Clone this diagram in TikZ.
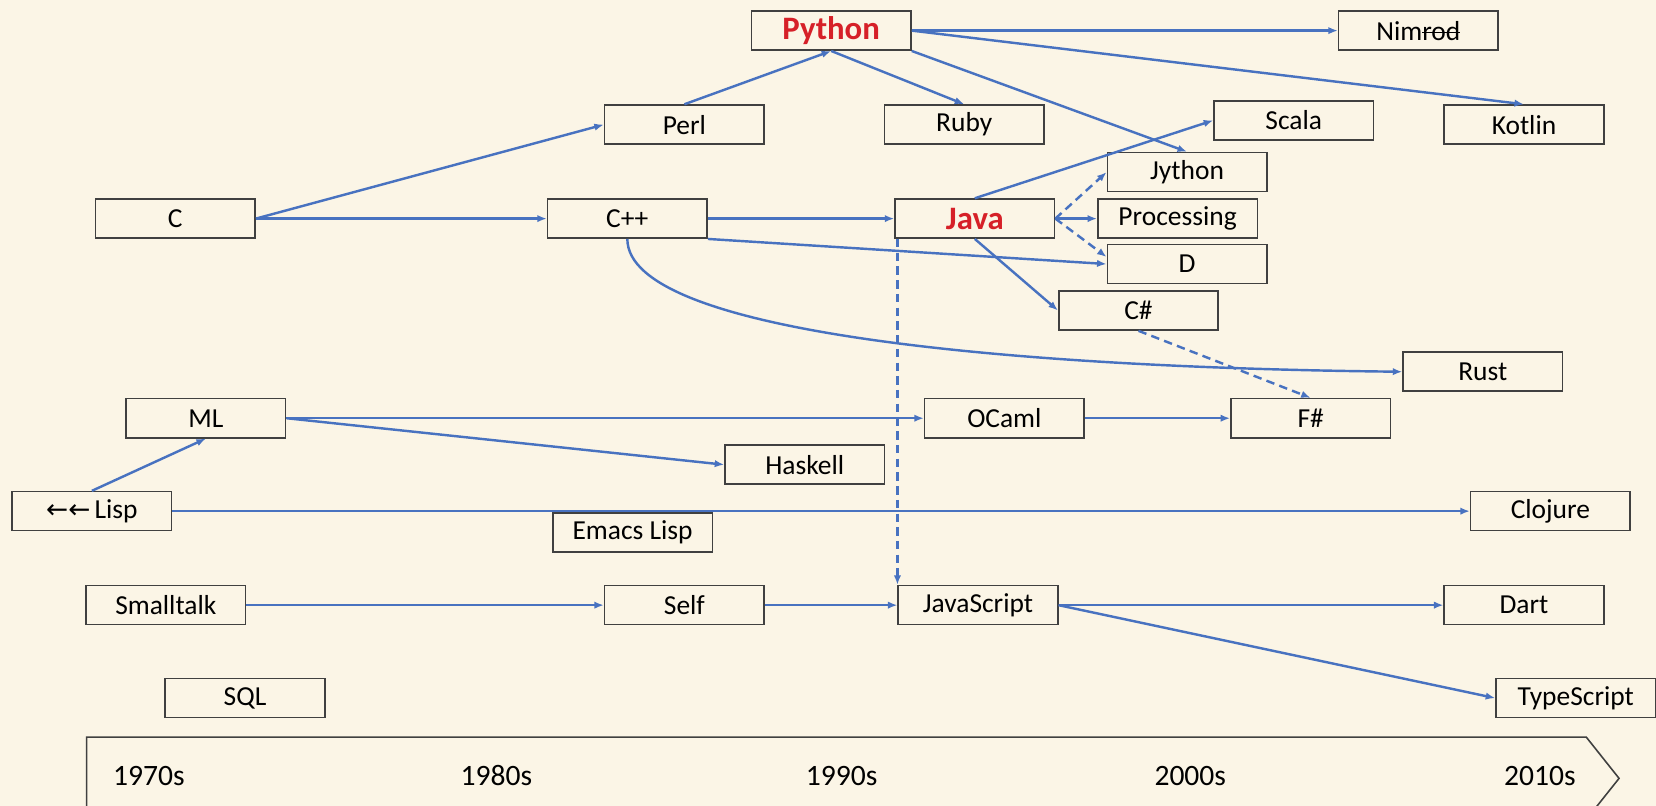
\documentclass[tikz,border=0pt]{standalone}
\usepackage{fontspec}
\setmainfont{Carlito}
\newfontfamily\arrowfont{DejaVu Sans}
\newcommand\mystrike[1]{\setbox0\hbox{#1}\rlap{\rule[0.26em]{\wd0}{0.6pt}}\box0}
\usetikzlibrary{arrows.meta}
\definecolor{bgc}{RGB}{251,245,230}
\definecolor{lnc}{RGB}{72,114,192}
\definecolor{boxc}{RGB}{64,64,64}
\definecolor{redc}{RGB}{214,32,40}
\tikzset{
  x=0.5pt, y=-0.5pt,
  lang/.style={draw=boxc, line width=0.75pt, fill=bgc, minimum width=75.5pt, minimum height=18.5pt, inner sep=0pt, font=\fontsize{13}{15}\selectfont},
  hot/.style={lang, text=redc, font=\fontsize{15.5}{17}\selectfont\bfseries},
  yr/.style={font=\fontsize{14}{16}\selectfont, inner sep=0pt, anchor=base},
  link/.style={draw=lnc, line width=1.15pt, -{Latex[length=4.5pt,width=3.5pt]}},
  dlink/.style={link, dash pattern=on 4pt off 2.5pt},
}
\begin{document}
\begin{tikzpicture}
\fill[bgc] (0,0) rectangle (1568,763);
\useasboundingbox (0,0) rectangle (1568,763);
% timeline
\draw[draw=boxc, line width=0.75pt] (82,698) -- (1502,698) -- (1533,737) -- (1502,776) -- (82,776) -- cycle;
\node[yr] (t1) at (141,744) {1970s};
\node[yr] (t2) at (470,744) {1980s};
\node[yr] (t3) at (797,744) {1990s};
\node[yr] (t4) at (1127,744) {2000s};
\node[yr] (t5) at (1458,744) {2010s};
% nodes
\node[hot]  (Python) at (787,29) {Python};
\node[lang] (Nimrod) at (1343,29) {Nim\mystrike{rod}};
\node[lang] (Perl) at (648,118) {Perl};
\node[lang] (Ruby) at (913,118) {Ruby};
\node[lang] (Scala) at (1225,114) {Scala};
\node[lang] (Kotlin) at (1443,118) {Kotlin};
\node[lang] (Jython) at (1124,163) {Jython};
\node[lang] (C) at (166,207) {C};
\node[lang] (Cpp) at (594,207) {C++};
\node[hot]  (Java) at (923,207) {Java};
\node[lang] (Processing) at (1115,207) {Processing};
\node[lang] (D) at (1124,250) {D};
\node[lang] (Cs) at (1078,294) {C\#};
\node[lang] (Rust) at (1404,352) {Rust};
\node[lang] (ML) at (195,396) {ML};
\node[lang] (OCaml) at (951,396) {OCaml};
\node[lang] (Fs) at (1241,396) {F\#};
\node[lang] (Haskell) at (762,440) {Haskell};
\node[lang] (Lisp) at (87,484) {{\arrowfont\fontsize{12.5}{15}\selectfont ←←}\hspace{2pt}Lisp};
\node[lang] (Emacs) at (599,504) {Emacs Lisp};
\node[lang] (Clojure) at (1468,484) {Clojure};
\node[lang] (Smalltalk) at (157,573) {Smalltalk};
\node[lang] (Self) at (648,573) {Self};
\node[lang] (JavaScript) at (926,573) {JavaScript};
\node[lang] (Dart) at (1443,573) {Dart};
\node[lang] (SQL) at (232,661) {SQL};
\node[lang] (TypeScript) at (1492,661) {TypeScript};
% connectors
\draw[link] (Perl.north) -- (Python.south);
\draw[link] (Python.south) -- (Ruby.north);
\draw[link] (Python.south east) -- (Jython.north);
\draw[link] (Python.east) -- (Nimrod.west);
\draw[link] (Python.east) -- (Kotlin.north);
\draw[link] (C.east) -- (Perl.west);
\draw[link] (C.east) -- (Cpp.west);
\draw[link] (Cpp.east) -- (Java.west);
\draw[link] (Cpp.south east) -- (D.west);
\draw[link] (Cpp.south) .. controls (594,316) and (960,348) .. (Rust.west);
\draw[link] (Java.north) -- (Scala.west);
\draw[dlink] (Java.east) -- (Jython.west);
\draw[link] (Java.east) -- (Processing.west);
\draw[dlink] (Java.east) -- (D.175);
\draw[link] (Java.south) -- (Cs.west);
\draw[dlink] (JavaScript.north west |- Java.south) -- (JavaScript.north west);
\draw[dlink] (Cs.south) -- (Fs.north);
\draw[link] (ML.east) -- (OCaml.west);
\draw[link] (ML.east) -- (Haskell.west);
\draw[link] (OCaml.east) -- (Fs.west);
\draw[link] (Lisp.north) -- (ML.south);
\draw[link] (Lisp.east) -- (Clojure.west);
\draw[link] (Smalltalk.east) -- (Self.west);
\draw[link] (Self.east) -- (JavaScript.west);
\draw[link] (JavaScript.east) -- (Dart.west);
\draw[link] (JavaScript.east) -- (TypeScript.west);
\end{tikzpicture}
\end{document}
